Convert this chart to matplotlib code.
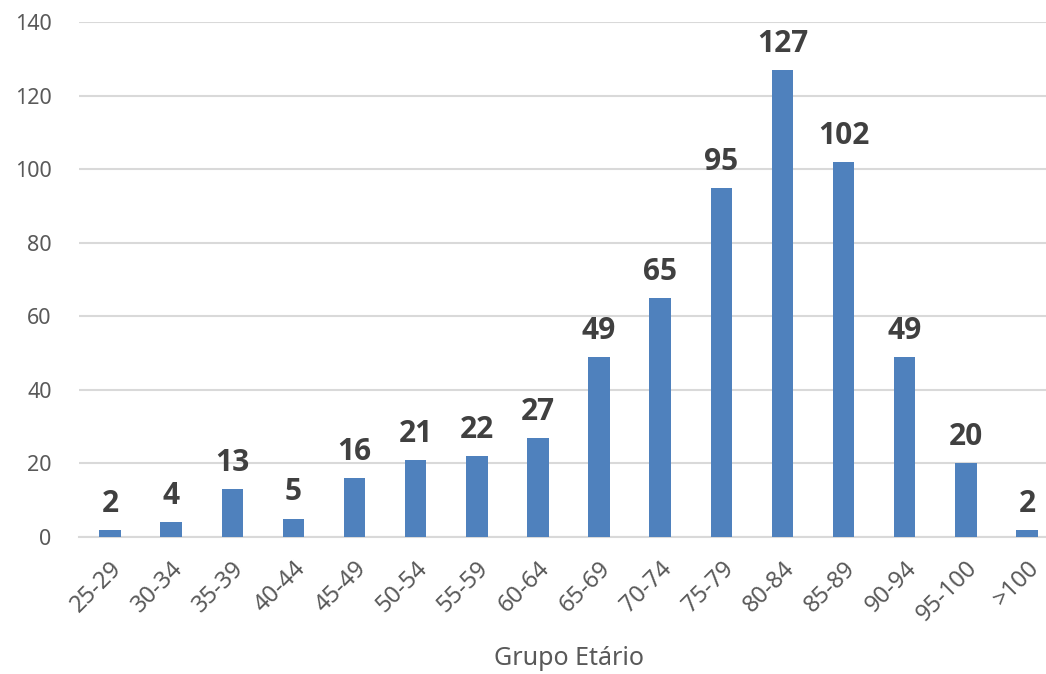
import matplotlib.pyplot as plt

# Data
grupos = ['25-29', '30-34', '35-39', '40-44', '45-49', '50-54', '55-59', '60-64',
          '65-69', '70-74', '75-79', '80-84', '85-89', '90-94', '95-100', '>100']
casos = [2, 4, 13, 5, 16, 21, 22, 27, 49, 65, 95, 127, 102, 49, 20, 2]
yticks = [0, 20, 40, 60, 80, 100, 120, 140]

plt.rcParams['font.family'] = ['Noto Sans', 'DejaVu Sans']

fig = plt.figure(figsize=(10.46, 6.74), dpi=100)
ax = fig.add_axes([0.076, 0.2033, 0.935, 0.7637])

x = range(len(grupos))
bars = ax.bar(x, casos, width=0.35, color='#4F81BD', zorder=3)
ax.bar_label(bars, padding=8, fontsize=21.5, fontweight='bold', color='#404040',
             family=['Open Sans', 'DejaVu Sans'])

ax.set_xlim(-0.5, len(grupos) - 0.5)
ax.set_ylim(0, 140)
ax.set_yticks(yticks)
ax.set_xticks(list(x))
ax.set_xticklabels(grupos, rotation=45, ha='right', rotation_mode='anchor')
ax.tick_params(axis='x', length=0, pad=14, labelsize=17, labelcolor='#595959')
ax.tick_params(axis='y', length=0, pad=20, labelsize=15.5, labelcolor='#595959')

ax.grid(axis='y', color='#D9D9D9', linewidth=1.5, zorder=0)
for s in ['top', 'right', 'left']:
    ax.spines[s].set_visible(False)
ax.spines['bottom'].set_color('#D9D9D9')
ax.spines['bottom'].set_linewidth(1.5)

ax.set_xlabel('Grupo Etário', fontsize=18, color='#595959', labelpad=14)

fig.savefig('out.png', dpi=100)
